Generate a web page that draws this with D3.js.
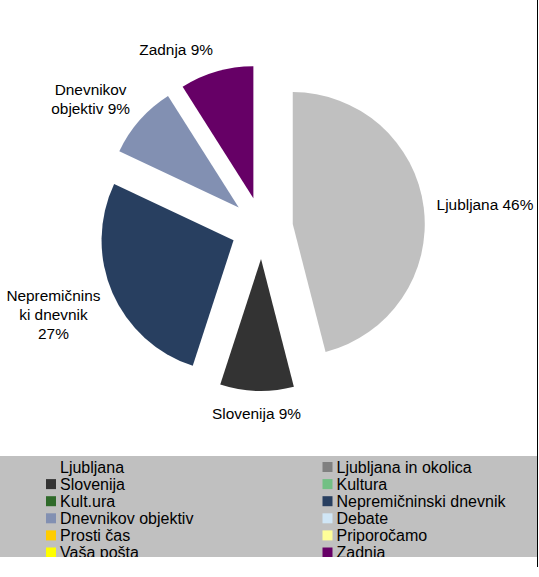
<!DOCTYPE html>
<html>
<head>
<meta charset="utf-8">
<script src="https://cdn.jsdelivr.net/npm/d3@7"></script>
<style>
  body { margin: 0; background: #fff; }
  svg { display: block; font-family: "Liberation Sans", Arial, sans-serif; }
</style>
</head>
<body>
<svg width="539" height="577"></svg>
<script>
// categories in legend / pie order
var categories = ["Ljubljana", "Ljubljana in okolica", "Slovenija", "Kultura", "Kult.ura",
  "Nepremičninski dnevnik", "Dnevnikov objektiv", "Debate", "Prosti čas", "Priporočamo",
  "Vaša pošta", "Zadnja"];
var shares = [46, 0, 9, 0, 0, 27, 9, 0, 0, 0, 0, 9];
var colors = ["#c0c0c0", "#808080", "#333333", "#72c084", "#2f6a2a",
  "#283f60", "#8290b2", "#d0e6f6", "#ffcc00", "#ffff99", "#ffff00", "#660066"];
// data label text, as wrapped in the original
var labelLines = [["Ljubljana 46%"], [], ["Slovenija 9%"], [], [],
  ["Nepremičnins", "ki dnevnik", "27%"], ["Dnevnikov", "objektiv 9%"], [], [], [], [], ["Zadnja 9%"]];

var svg = d3.select("svg"),
    width = +svg.attr("width"),
    height = +svg.attr("height");

var cx = 262, cy = 228, radius = 132, explode = 31, labelGap = 13;

var data = categories.map(function(c, i) {
  return { name: c, value: shares[i], color: colors[i], lines: labelLines[i] };
});

var pie = d3.pie().sort(null).value(function(d) { return d.value; });
var arc = d3.arc().innerRadius(0).outerRadius(radius);
var arcs = pie(data).filter(function(a) { return a.value > 0; });

function mid(a) { return (a.startAngle + a.endAngle) / 2; }

var slices = svg.append("g")
    .attr("transform", "translate(" + cx + "," + cy + ")");

slices.selectAll("path")
  .data(arcs)
  .enter().append("path")
    .attr("d", arc)
    .attr("fill", function(a) { return a.data.color; })
    .attr("transform", function(a) {
      var m = mid(a);
      return "translate(" + (Math.sin(m) * explode) + "," + (-Math.cos(m) * explode) + ")";
    });

// labels outside the exploded slices
var lineH = 19;
var labels = slices.selectAll("g.label")
  .data(arcs)
  .enter().append("g")
    .attr("class", "label");

labels.each(function(a) {
  var g = d3.select(this);
  var m = mid(a), dx = Math.sin(m), dy = -Math.cos(m);
  var dist = explode + radius + labelGap;
  var px = dx * dist, py = dy * dist;
  var n = a.data.lines.length;
  var t = g.append("text")
      .attr("font-size", "15.4px")
      .attr("fill", "#000")
      .attr("text-anchor", "middle");
  a.data.lines.forEach(function(l, i) {
    t.append("tspan").attr("x", 0).attr("y", i * lineH).text(l);
  });
  var w = 0;
  t.selectAll("tspan").each(function() { w = Math.max(w, this.getComputedTextLength()); });
  var h = n * lineH;
  var bx;
  if (dx > 0.1) bx = px + w / 2;
  else if (dx < -0.1) bx = px - w / 2;
  else bx = px;
  var by = py + dy * h / 2 + (n > 2 ? 5 : 0);   // box centre
  var top = by - h / 2;
  g.attr("transform", "translate(" + bx + "," + (top + lineH / 2 + 5.5) + ")");
});

// legend
var legendTop = 456, legendBottom = 557;
svg.append("clipPath").attr("id", "legclip")
  .append("rect").attr("x", 0).attr("y", legendTop).attr("width", 537).attr("height", legendBottom - legendTop);

var legend = svg.append("g").attr("clip-path", "url(#legclip)");
legend.append("rect")
    .attr("x", 0).attr("y", legendTop)
    .attr("width", 537).attr("height", legendBottom - legendTop)
    .attr("fill", "#c0c0c0");

var colX = d3.scaleOrdinal().domain([0, 1]).range([46, 322.5]);
var rowY = d3.scaleLinear().domain([0, 1]).range([467, 484.1]);

var item = legend.selectAll("g.item")
  .data(data)
  .enter().append("g")
    .attr("class", "item")
    .attr("transform", function(d, i) {
      return "translate(" + colX(i % 2) + "," + rowY(Math.floor(i / 2)) + ")";
    });
item.append("rect")
    .attr("x", 0).attr("y", -5).attr("width", 10).attr("height", 10)
    .attr("fill", function(d) { return d.color; });
item.append("text")
    .attr("x", 14).attr("y", 5.7)
    .attr("font-size", "16px")
    .attr("fill", "#000")
    .text(function(d) { return d.name; });

// right border line
svg.append("line")
    .attr("x1", 537.5).attr("x2", 537.5)
    .attr("y1", 0).attr("y2", 567)
    .attr("stroke", "#000").attr("stroke-width", 1);
</script>
</body>
</html>
